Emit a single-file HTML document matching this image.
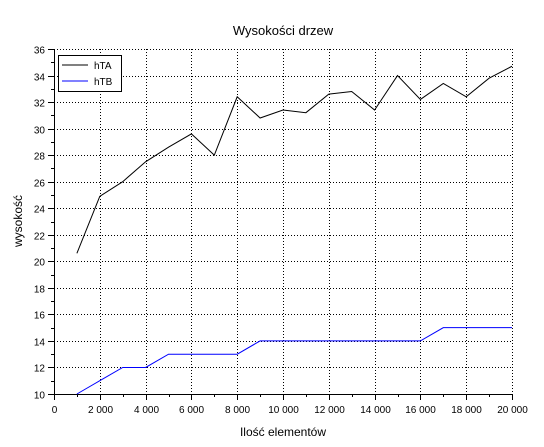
<!DOCTYPE html>
<html><head><meta charset="utf-8"><style>
body{margin:0;background:#fff;}
svg{display:block;font-family:"Liberation Sans",sans-serif;}
</style></head><body>
<svg id="chart" width="544" height="447">
<rect width="544" height="447" fill="#fff"/>
<text x="283" y="35" text-anchor="middle" font-size="13">Wysokości drzew</text>
<text x="283" y="436" text-anchor="middle" font-size="12">Ilość elementów</text>
<text x="22" y="221" text-anchor="middle" font-size="12" transform="rotate(-90 22 221)">wysokość</text>
<g id="grid"></g><g id="axes"></g><g id="series"></g>
<g>
<rect x="58.5" y="55.5" width="63" height="36" fill="#fff" stroke="#000"/>
<line x1="62" y1="65" x2="88" y2="65" stroke="#000"/>
<text x="94" y="69" font-size="10">hTA</text>
<line x1="62" y1="81" x2="88" y2="81" stroke="#0000ff"/>
<text x="94" y="85" font-size="10">hTB</text>
</g>
</svg>
<script>
const xValues=[1000,2000,3000,4000,5000,6000,7000,8000,9000,10000,11000,12000,13000,14000,15000,16000,17000,18000,19000,20000];
const hTA=[20.6,24.9,26.0,27.5,28.6,29.6,28.0,32.4,30.8,31.4,31.2,32.6,32.8,31.4,34.0,32.2,33.4,32.4,33.8,34.7];
const hTB=[10,11,12,12,13,13,13,13,14,14,14,14,14,14,14,14,15,15,15,15];
const xTicks=[0,2000,4000,6000,8000,10000,12000,14000,16000,18000,20000];
const xTickLabels=["0","2 000","4 000","6 000","8 000","10 000","12 000","14 000","16 000","18 000","20 000"];
const yTicks=[10,12,14,16,18,20,22,24,26,28,30,32,34,36];
const L=54,R=512,T=49,B=394;
const sx=v=>L+(v-0)/20000*(R-L);
const sy=v=>B-(v-10)/26*(B-T);
const NS="http://www.w3.org/2000/svg";
function mk(parent,tag,attrs){const e=document.createElementNS(NS,tag);for(const k in attrs)e.setAttribute(k,attrs[k]);document.getElementById(parent).appendChild(e);return e;}
xTicks.forEach((t,i)=>{
 const x=Math.round(sx(t))+0.5;
 if(i>0){const g=mk('grid','line',{x1:x,x2:x,y1:T,y2:B,stroke:'#000','stroke-dasharray':'1,2'});
 
 }
 const tk=mk('axes','line',{x1:x,x2:x,y1:B,y2:B+6,stroke:'#000'});
 
 
 const lb=mk('axes','text',{x:x,y:B+19,'text-anchor':'middle','font-size':'10'});lb.textContent=xTickLabels[i];
 
 
 if(i<xTicks.length-1){const mx=Math.round(sx(t+1000))+0.5;const m=mk('axes','line',{x1:mx,x2:mx,y1:B,y2:B+3,stroke:'#000'});
 
 }
});
yTicks.forEach((t,i)=>{
 const y=Math.round(sy(t))+0.5;
 if(i>0){const g=mk('grid','line',{x1:L,x2:R,y1:y,y2:y,stroke:'#000','stroke-dasharray':'1,2'});
 
 }
 const tk=mk('axes','line',{x1:L-6,x2:L,y1:y,y2:y,stroke:'#000'});
 
 
 const lb=mk('axes','text',{x:L-9,y:y+4,'text-anchor':'end','font-size':'10'});lb.textContent=String(t);
 
 
 if(i<yTicks.length-1){const my=Math.round(sy(t+1))+0.5;const m=mk('axes','line',{x1:L-3,x2:L,y1:my,y2:my,stroke:'#000'});
 
 }
});
const ax=mk('axes','path',{d:`M${L+0.5},${T} V${B+0.5} H${R+0.5}`,fill:'none',stroke:'#000'});


const pa=mk('series','polyline',{points:xValues.map((x,i)=>sx(x)+','+sy(hTA[i])).join(' '),fill:'none',stroke:'#000'});


const pb=mk('series','polyline',{points:xValues.map((x,i)=>sx(x)+','+sy(hTB[i])).join(' '),fill:'none',stroke:'#0000ff'});


</script>
</body></html>
